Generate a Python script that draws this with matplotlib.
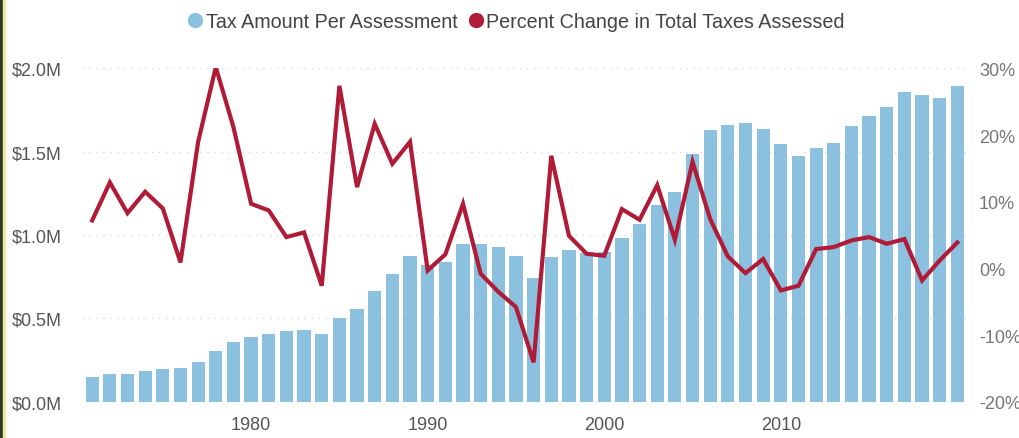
import matplotlib
matplotlib.use("Agg")
import matplotlib.pyplot as plt
from matplotlib.lines import Line2D
from matplotlib.patches import Rectangle
from matplotlib.ticker import FuncFormatter, MultipleLocator

years = list(range(1971, 2021))
tax_per_assessment_m = [
    0.147, 0.166, 0.166, 0.186, 0.196, 0.200, 0.237, 0.306, 0.360, 0.387,
    0.407, 0.423, 0.432, 0.407, 0.503, 0.557, 0.667, 0.767, 0.872, 0.820,
    0.840, 0.947, 0.947, 0.927, 0.875, 0.742, 0.867, 0.909, 0.890, 0.900,
    0.980, 1.067, 1.180, 1.258, 1.487, 1.630, 1.662, 1.674, 1.638, 1.548,
    1.477, 1.522, 1.554, 1.654, 1.714, 1.768, 1.858, 1.842, 1.824, 1.894,
]
pct_change_total = [
    7.2, 12.9, 8.3, 11.5, 9.0, 0.9, 19.0, 30.2, 21.2, 9.7,
    8.7, 4.7, 5.4, -2.6, 27.4, 12.2, 21.7, 15.7, 19.0, -0.3,
    2.1, 9.7, -0.8, -3.5, -5.8, -14.1, 16.9, 4.9, 2.2, 1.9,
    8.9, 7.3, 12.5, 4.3, 16.0, 7.4, 1.8, -0.7, 1.4, -3.3,
    -2.6, 2.9, 3.2, 4.2, 4.7, 3.7, 4.4, -1.8, 1.2, 3.9,
]
x_ticks = [1980, 1990, 2000, 2010]
bar_label = "Tax Amount Per Assessment"
line_label = "Percent Change in Total Taxes Assessed"

BAR_C = "#8bc0de"
LINE_C = "#b01c38"
TXT = "#555555"
FONT = "Liberation Sans"

fig = plt.figure(figsize=(10.2, 4.39), dpi=100)
fig.patch.set_facecolor("white")
ax = fig.add_axes([0.080, 0.0827, 0.869, 0.759])
ax2 = ax.twinx()

ax.bar(years, tax_per_assessment_m, width=0.75, color=BAR_C, zorder=2)
ax2.plot(years, pct_change_total, color=LINE_C, lw=3.0, solid_joinstyle="miter", zorder=3)

ax.set_xlim(1970.4, 2020.6)
ax.set_ylim(0, 2.0)
ax2.set_ylim(-20, 30)
ax.yaxis.set_major_locator(MultipleLocator(0.5))
ax2.yaxis.set_major_locator(MultipleLocator(10))
ax.yaxis.set_major_formatter(FuncFormatter(lambda v, p: f"${v:.1f}M"))
ax2.yaxis.set_major_formatter(FuncFormatter(lambda v, p: f"{v:.0f}%"))
ax.set_xticks(x_ticks)

for a in (ax, ax2):
    for s in a.spines.values():
        s.set_visible(False)
    a.tick_params(length=0)

ax.tick_params(axis="y", pad=14, labelsize=13, labelcolor=TXT)
ax.tick_params(axis="x", pad=10, labelsize=13, labelcolor=TXT)
ax2.tick_params(axis="y", pad=8, labelsize=13, labelcolor="#777777")
for lab in ax.get_yticklabels() + ax.get_xticklabels() + ax2.get_yticklabels():
    lab.set_fontfamily(FONT)

ax.grid(axis="y", color="#dadada", linestyle=(0, (1, 4)), lw=1, zorder=0)
ax.set_axisbelow(True)
gl = ax.get_ygridlines()
if gl:
    gl[0].set_visible(False)

handles = [
    Line2D([], [], marker="o", color="none", markerfacecolor=BAR_C, markeredgecolor=BAR_C, markersize=10),
    Line2D([], [], marker="o", color="none", markerfacecolor=LINE_C, markeredgecolor=LINE_C, markersize=10),
]
fig.legend(handles, [bar_label, line_label], loc="center", bbox_to_anchor=(0.507, 0.948),
           ncol=2, frameon=False, handlelength=0.6, handletextpad=0.25, columnspacing=0.6,
           prop={"family": FONT, "size": 14.2}, labelcolor="#444444")

fig.patches.append(Rectangle((0, 0), 3 / 1020, 1, transform=fig.transFigure, color="#2e3a22", zorder=10))
fig.patches.append(Rectangle((3 / 1020, 0), 2 / 1020, 1, transform=fig.transFigure, color="#efe6a8", zorder=10))

fig.savefig("out.png", dpi=100)
